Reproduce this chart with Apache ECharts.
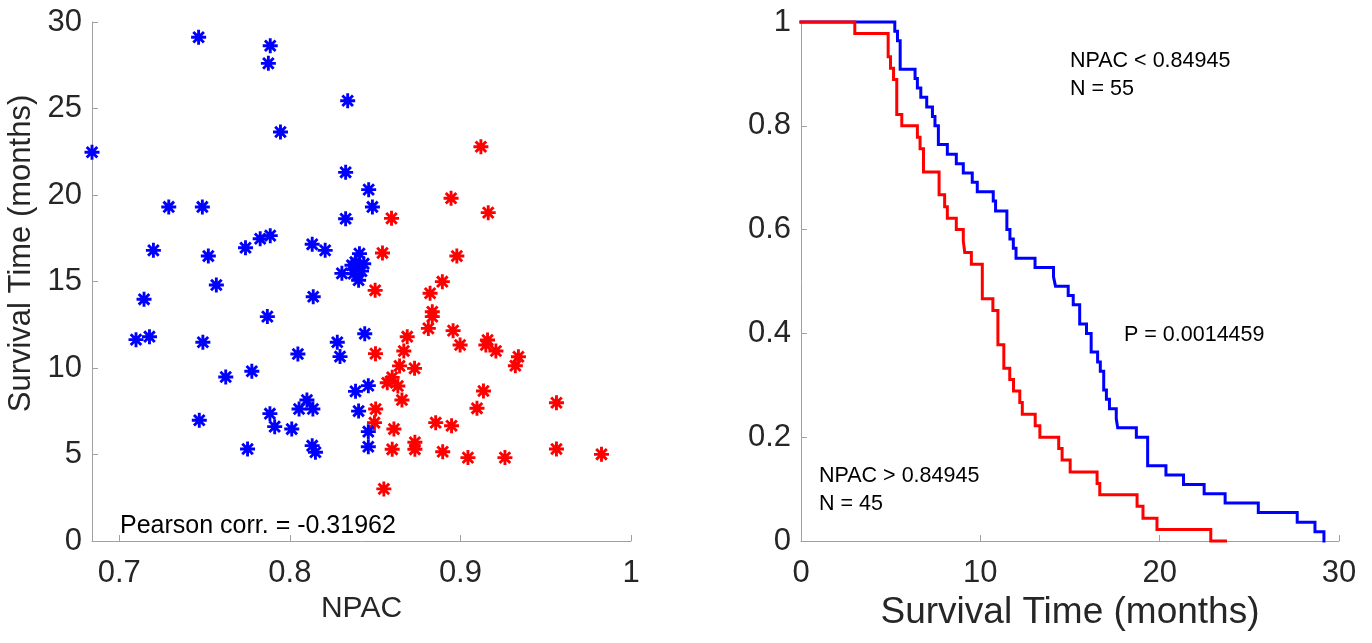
<!DOCTYPE html>
<html>
<head>
<meta charset="utf-8">
<title>NPAC and survival</title>
<script src="https://cdn.jsdelivr.net/npm/echarts@6/dist/echarts.min.js"></script>
<style>
  html, body { margin: 0; padding: 0; background: #ffffff; }
  #chart { width: 1372px; height: 643px; }
</style>
</head>
<body>
<div id="chart"></div>
<script>
// Low-NPAC group (NPAC < 0.84945): NPAC value and survival time (months)
const lowNpac = [0.7465, 0.7885, 0.7874, 0.8339, 0.7945, 0.6840, 0.8327, 0.7290, 0.7487, 0.8462,
  0.8484, 0.8327, 0.8131, 0.8207, 0.8305, 0.8137, 0.7200, 0.7522, 0.7740, 0.7826,
  0.7885, 0.7569, 0.7145, 0.7868, 0.7098, 0.7177, 0.7490, 0.8439, 0.8278, 0.8294,
  0.8047, 0.7624, 0.7777, 0.8385, 0.8460, 0.8100, 0.8054, 0.8135, 0.7883, 0.8403,
  0.7469, 0.7911, 0.8011, 0.8460, 0.8460, 0.7752, 0.8131, 0.8150, 0.8408, 0.8384,
  0.8433, 0.8364, 0.8420, 0.8374, 0.8403];
const lowSurv = [29.12, 28.63, 27.61, 25.45, 23.64, 22.47, 21.31, 19.31, 19.31, 20.31,
  19.31, 18.63, 17.15, 16.80, 15.47, 14.12, 16.80, 16.47, 16.95, 17.47,
  17.65, 14.80, 13.97, 12.97, 11.64, 11.81, 11.49, 11.98, 11.49, 10.66,
  10.81, 9.48, 9.81, 8.65, 8.98, 8.15, 7.63, 7.63, 7.36, 7.51,
  6.98, 6.61, 6.47, 6.32, 5.45, 5.32, 5.51, 5.13, 16.61, 16.13,
  16.03, 15.94, 15.60, 15.45, 15.07];

// High-NPAC group (NPAC > 0.84945)
const highNpac = [0.9120, 0.8945, 0.9163, 0.8596, 0.8543, 0.8979, 0.8894, 0.8822, 0.8500, 0.8835,
  0.8835, 0.8812, 0.8957, 0.8998, 0.9159, 0.9149, 0.9208, 0.9340, 0.9322, 0.8688,
  0.8668, 0.8502, 0.8643, 0.8731, 0.8600, 0.8571, 0.8633, 0.8657, 0.8503, 0.8496,
  0.9135, 0.9097, 0.9563, 0.8855, 0.8948, 0.8610, 0.8600, 0.8733, 0.8733, 0.8896,
  0.9044, 0.9261, 0.9563, 0.9827, 0.8551];
const highSurv = [22.79, 19.81, 18.98, 18.65, 16.65, 16.47, 14.99, 14.32, 14.49, 13.25,
  12.97, 12.29, 12.16, 11.33, 11.62, 11.33, 10.98, 10.65, 10.13, 11.81,
  10.98, 10.83, 10.12, 9.98, 9.46, 9.15, 8.96, 8.15, 7.63, 6.84,
  8.67, 7.67, 7.99, 6.84, 6.66, 6.47, 5.30, 5.71, 5.30, 5.16,
  4.82, 4.82, 5.32, 5.01, 3.01];

// Kaplan-Meier steps: time (months) and survival fraction after each step
const lowKmTime = [0, 5.23, 5.38, 5.53, 6.36, 6.49, 6.68, 7.01, 7.33, 7.47, 7.66, 8.16, 8.66, 9.05,
  9.55, 9.83, 10.72, 10.85, 11.48, 11.65, 11.84, 11.99, 13.05, 14.08, 14.19, 14.90, 15.18,
  15.54, 15.92, 16.18, 16.54, 16.69, 16.88, 17.03, 17.20, 17.58, 17.66, 18.70, 19.33,
  20.35, 21.33, 22.48, 23.65, 25.50, 27.67, 28.66, 29.16];
const lowKmSurv = [1, 0.982, 0.964, 0.909, 0.891, 0.873, 0.855, 0.836, 0.818, 0.800, 0.764, 0.745, 0.727, 0.709,
  0.691, 0.673, 0.655, 0.636, 0.600, 0.582, 0.564, 0.545, 0.527, 0.509, 0.491, 0.473, 0.455,
  0.418, 0.400, 0.364, 0.345, 0.327, 0.291, 0.273, 0.255, 0.236, 0.218, 0.200, 0.145,
  0.127, 0.109, 0.091, 0.073, 0.055, 0.036, 0.018, 0];
const highKmTime = [0, 3.00, 4.86, 4.99, 5.16, 5.34, 5.62, 6.49, 6.64, 6.83, 7.70, 8.01, 8.16, 8.66,
  9.05, 9.13, 9.50, 10.11, 10.70, 10.98, 11.31, 11.64, 11.85, 12.20, 12.34, 13.06, 13.32,
  14.37, 14.56, 15.01, 16.51, 16.66, 18.74, 19.07, 19.85, 22.85, 23.67];
const highKmSurv = [1, 0.978, 0.933, 0.911, 0.889, 0.822, 0.800, 0.778, 0.756, 0.711, 0.667, 0.644, 0.622, 0.600,
  0.578, 0.556, 0.533, 0.467, 0.444, 0.378, 0.333, 0.311, 0.289, 0.267, 0.244, 0.222, 0.200,
  0.178, 0.156, 0.133, 0.111, 0.089, 0.067, 0.044, 0.022, 0, 0];

const npacTicks = [0.7, 0.8, 0.9, 1];

const FONT = "'Liberation Sans', Arial, Helvetica, sans-serif";
const AXIS_GRAY = '#a0a0a0';
const LABEL_COLOR = '#262626';
const BLUE = '#0000ff';
const RED = '#ff0000';

// eight-spoke asterisk marker
const ASTERISK = 'path://M-7,-1.35L7,-1.35L7,1.35L-7,1.35Z' +
  'M-1.35,-7L1.35,-7L1.35,7L-1.35,7Z' +
  'M-4,-5.9L5.9,4L4,5.9L-5.9,-4Z' +
  'M-5.9,4L4,-5.9L5.9,-4L-4,5.9Z';

function zip(a, b) { return a.map((v, i) => [v, b[i]]); }

function axisCommon(extra) {
  return Object.assign({
    type: 'value',
    splitLine: { show: false },
    axisLine: { show: true, onZero: false, lineStyle: { color: AXIS_GRAY, width: 1 } },
    axisTick: { show: true, inside: true, length: 6, lineStyle: { color: AXIS_GRAY } },
    axisLabel: { color: LABEL_COLOR, fontSize: 31, fontFamily: FONT },
    nameTextStyle: { color: LABEL_COLOR, fontFamily: FONT }
  }, extra);
}

const chart = echarts.init(document.getElementById('chart'), null, { renderer: 'canvas' });

const option = {
  backgroundColor: '#ffffff',
  animation: false,
  grid: [
    { left: 92, right: 741, top: 22, bottom: 102 },
    { left: 801, right: 33, top: 22, bottom: 102 }
  ],
  xAxis: [
    axisCommon({
      gridIndex: 0, min: 0.684, max: 1,
      axisTick: { show: true, inside: true, length: 6, lineStyle: { color: AXIS_GRAY }, customValues: npacTicks },
      axisLabel: { color: LABEL_COLOR, fontSize: 31, fontFamily: FONT, margin: 17, customValues: npacTicks,
        formatter: v => String(v) },
      name: 'NPAC', nameLocation: 'middle', nameGap: 52,
      nameTextStyle: { color: LABEL_COLOR, fontFamily: FONT, fontSize: 30 }
    }),
    axisCommon({
      gridIndex: 1, min: 0, max: 30, interval: 10,
      axisLabel: { color: LABEL_COLOR, fontSize: 31, fontFamily: FONT, margin: 17 },
      name: 'Survival Time (months)', nameLocation: 'middle', nameGap: 50,
      nameTextStyle: { color: LABEL_COLOR, fontFamily: FONT, fontSize: 37 }
    })
  ],
  yAxis: [
    axisCommon({
      gridIndex: 0, min: 0, max: 30, interval: 5,
      axisLabel: { color: LABEL_COLOR, fontSize: 31, fontFamily: FONT, margin: 10 },
      name: 'Survival Time (months)', nameLocation: 'middle', nameGap: 55, nameRotate: 90,
      // left padding lifts the rotated title a little above the axis centre
      nameTextStyle: { color: LABEL_COLOR, fontFamily: FONT, fontSize: 31, padding: [0, 0, 0, 56] }
    }),
    axisCommon({
      gridIndex: 1, min: 0, max: 1, interval: 0.2,
      axisLabel: { color: LABEL_COLOR, fontSize: 31, fontFamily: FONT, margin: 10 }
    })
  ],
  series: [
    {
      type: 'scatter', xAxisIndex: 0, yAxisIndex: 0,
      data: zip(highNpac, highSurv),
      symbol: ASTERISK, symbolSize: 15,
      itemStyle: { color: RED, opacity: 1 }
    },
    {
      type: 'scatter', xAxisIndex: 0, yAxisIndex: 0,
      data: zip(lowNpac, lowSurv),
      symbol: ASTERISK, symbolSize: 15,
      itemStyle: { color: BLUE, opacity: 1 }
    },
    {
      type: 'line', xAxisIndex: 1, yAxisIndex: 1,
      data: zip(lowKmTime, lowKmSurv),
      step: 'end', showSymbol: false, symbol: 'none', clip: false,
      lineStyle: { color: BLUE, width: 3, cap: 'square', join: 'miter' }
    },
    {
      type: 'line', xAxisIndex: 1, yAxisIndex: 1,
      data: zip(highKmTime, highKmSurv),
      step: 'end', showSymbol: false, symbol: 'none', clip: false,
      lineStyle: { color: RED, width: 3, cap: 'square', join: 'miter' }
    }
  ],
  graphic: [
    { type: 'text', x: 120, y: 526, silent: true,
      style: { text: 'Pearson corr. = -0.31962', fontSize: 25, fontFamily: FONT, fill: '#000', verticalAlign: 'middle', align: 'left' } },
    { type: 'text', x: 1070, y: 61, silent: true,
      style: { text: 'NPAC < 0.84945', fontSize: 21.5, fontFamily: FONT, fill: '#000', verticalAlign: 'middle', align: 'left' } },
    { type: 'text', x: 1070, y: 89.5, silent: true,
      style: { text: 'N = 55', fontSize: 21.5, fontFamily: FONT, fill: '#000', verticalAlign: 'middle', align: 'left' } },
    { type: 'text', x: 1124, y: 335, silent: true,
      style: { text: 'P = 0.0014459', fontSize: 21.5, fontFamily: FONT, fill: '#000', verticalAlign: 'middle', align: 'left' } },
    { type: 'text', x: 819, y: 476, silent: true,
      style: { text: 'NPAC > 0.84945', fontSize: 21.5, fontFamily: FONT, fill: '#000', verticalAlign: 'middle', align: 'left' } },
    { type: 'text', x: 819, y: 504.5, silent: true,
      style: { text: 'N = 45', fontSize: 21.5, fontFamily: FONT, fill: '#000', verticalAlign: 'middle', align: 'left' } }
  ]
};

chart.setOption(option);
</script>
</body>
</html>
